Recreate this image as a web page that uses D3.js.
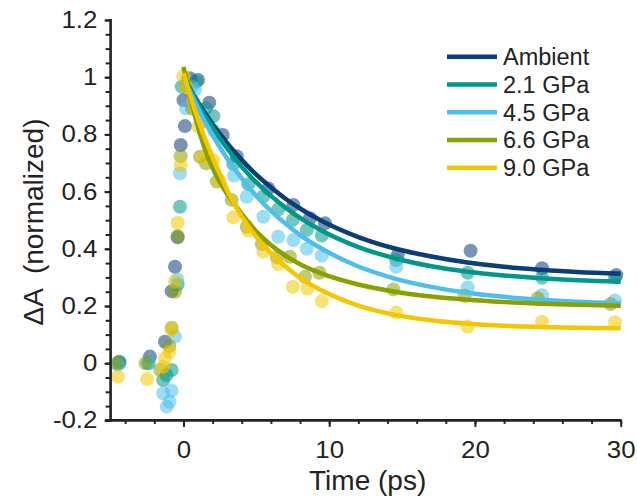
<!DOCTYPE html>
<html><head><meta charset="utf-8">
<script src="https://cdn.jsdelivr.net/npm/d3@7"></script>
<style>
body{margin:0;background:#fff}
svg{display:block}
text{font-family:"Liberation Sans",Arial,Helvetica,sans-serif;fill:#222}
</style>
</head><body>
<svg id="chart" width="637" height="497"></svg>
<script>
// ---------- data ----------
const seriesNames = ["Ambient", "2.1 GPa", "4.5 GPa", "6.6 GPa", "9.0 GPa"];
const seriesColors = ["#0b3d79", "#00988a", "#4cbfec", "#8a9f00", "#f3c600"];

const ambientT = [-4.4, -2.3, -1.27, -0.81, -0.58, -0.4, -0.19, 0.0, 0.1, 0.45, 1.0, 1.77, 2.69, 3.65, 5.82, 7.54, 8.68, 9.71, 14.7, 19.7, 24.6, 29.7];
const ambientY = [0.005, 0.023, 0.075, 0.252, 0.337, 0.44, 0.763, 0.92, 0.829, 0.996, 0.99, 0.911, 0.798, 0.724, 0.611, 0.553, 0.507, 0.489, 0.378, 0.393, 0.332, 0.308];

const gpa21T = [-4.4, -2.4, -1.39, -1.15, -0.81, -0.4, -0.24, -0.12, 0.86, 1.54, 2.05, 3.42, 4.45, 5.48, 6.5, 7.5, 8.46, 9.49, 14.6, 19.5, 24.6, 29.6];
const gpa21Y = [0.0, 0.0, -0.059, -0.041, -0.024, 0.275, 0.547, 0.967, 0.984, 0.891, 0.864, 0.696, 0.626, 0.584, 0.538, 0.501, 0.466, 0.446, 0.361, 0.316, 0.299, 0.3];

const gpa45T = [-4.5, -2.4, -1.39, -1.15, -0.95, -0.81, -0.58, -0.43, -0.24, 0.17, 0.56, 0.79, 1.54, 2.11, 3.47, 4.34, 5.48, 6.5, 7.54, 8.46, 9.49, 14.6, 19.5, 24.6, 29.6];
const gpa45Y = [-0.005, 0.0, -0.105, -0.152, -0.135, -0.096, 0.093, 0.293, 0.664, 0.891, 0.967, 0.955, 0.845, 0.812, 0.656, 0.582, 0.512, 0.442, 0.431, 0.4, 0.376, 0.337, 0.265, 0.238, 0.219];

const gpa66T = [-4.6, -2.6, -1.6, -0.97, -0.81, -0.58, -0.4, -0.19, 0.2, 0.6, 1.13, 1.54, 2.28, 3.3, 4.34, 5.37, 6.4, 7.3, 8.34, 9.32, 14.4, 19.3, 24.3, 29.3];
const gpa66Y = [0.0, 0.0, -0.024, 0.06, 0.124, 0.25, 0.445, 0.724, 0.97, 0.89, 0.722, 0.699, 0.635, 0.571, 0.477, 0.417, 0.37, 0.372, 0.302, 0.316, 0.258, 0.236, 0.227, 0.207];

const gpa90T = [-4.5, -2.5, -1.39, -1.27, -0.97, -0.81, -0.58, -0.4, -0.19, 0.0, 0.22, 0.67, 0.9, 1.02, 1.36, 2.05, 2.46, 3.42, 4.45, 5.48, 6.5, 7.5, 8.5, 9.49, 14.6, 19.5, 24.6, 29.6];
const gpa90Y = [-0.047, -0.055, -0.012, 0.017, 0.04, 0.116, 0.285, 0.491, 0.693, 1.004, 0.965, 0.918, 0.885, 0.827, 0.72, 0.71, 0.641, 0.51, 0.463, 0.39, 0.347, 0.267, 0.262, 0.217, 0.177, 0.128, 0.145, 0.143];

// fitted curves
const fitT       = [0, 0.5, 1, 1.5, 2, 2.5, 3, 3.5, 4, 5, 6, 7, 8, 9.5, 12, 14.5, 17, 19.5, 22, 24.5, 27, 30];
const fitAmbient = [1.000, 0.955, 0.913, 0.873, 0.836, 0.802, 0.769, 0.739, 0.711, 0.659, 0.615, 0.575, 0.541, 0.497, 0.441, 0.401, 0.373, 0.352, 0.337, 0.327, 0.319, 0.313];
const fit21      = [1.005, 0.955, 0.908, 0.864, 0.824, 0.786, 0.751, 0.718, 0.687, 0.632, 0.585, 0.544, 0.508, 0.463, 0.406, 0.367, 0.339, 0.320, 0.307, 0.297, 0.290, 0.285];
const fit45      = [1.000, 0.944, 0.891, 0.842, 0.797, 0.755, 0.716, 0.680, 0.646, 0.585, 0.533, 0.488, 0.448, 0.400, 0.338, 0.296, 0.267, 0.246, 0.232, 0.222, 0.215, 0.210];
const fit66      = [1.036, 0.920, 0.825, 0.745, 0.682, 0.632, 0.592, 0.556, 0.522, 0.460, 0.413, 0.376, 0.346, 0.313, 0.275, 0.250, 0.233, 0.222, 0.214, 0.208, 0.204, 0.201];
const fit90      = [1.014, 0.929, 0.852, 0.782, 0.719, 0.662, 0.605, 0.556, 0.513, 0.442, 0.385, 0.338, 0.298, 0.254, 0.201, 0.169, 0.150, 0.138, 0.131, 0.127, 0.124, 0.122];

const xTickValues = [0, 10, 20, 30];
const xTickLabels = ["0", "10", "20", "30"];
const yTickValues = [-0.2, 0, 0.2, 0.4, 0.6, 0.8, 1, 1.2];
const yTickLabels = ["-0.2", "0", "0.2", "0.4", "0.6", "0.8", "1", "1.2"];
const xLabel = "Time (ps)";
const yLabel = "\u0394A  (normalized)";

// ---------- build ----------
const pointsT = [ambientT, gpa21T, gpa45T, gpa66T, gpa90T];
const pointsY = [ambientY, gpa21Y, gpa45Y, gpa66Y, gpa90Y];
const fits = [fitAmbient, fit21, fit45, fit66, fit90];

const svg = d3.select("#chart");
const x = d3.scaleLinear().domain([-5, 30]).range([110.6, 620.7]);
const y = d3.scaleLinear().domain([-0.2, 1.2]).range([420.4, 20]);

// points
seriesNames.forEach((name, i) => {
  const pts = pointsT[i].map((t, j) => ({t, v: pointsY[i][j]}));
  svg.append("g").selectAll("circle").data(pts).join("circle")
    .attr("cx", d => x(d.t)).attr("cy", d => y(d.v)).attr("r", 7)
    .attr("fill", seriesColors[i]).attr("fill-opacity", 0.55);
});

// fit lines
const line = d3.line().x(d => x(d.t)).y(d => y(d.v)).curve(d3.curveMonotoneX);
seriesNames.forEach((name, i) => {
  const pts = fitT.map((t, j) => ({t, v: fits[i][j]}));
  svg.append("path").datum(pts).attr("d", line)
    .attr("fill", "none").attr("stroke", seriesColors[i]).attr("stroke-width", 4.5);
});

// axes
const axisColor = "#222";
const gx = svg.append("g").attr("transform", `translate(0,${y(-0.2)})`);
gx.call(d3.axisBottom(x).tickValues(d3.range(-4, 31, 2)).tickSize(3.5).tickFormat(""));
gx.select(".domain").remove();
gx.selectAll(".tick line").attr("stroke", axisColor).attr("stroke-width", 2);
const gx2 = svg.append("g").attr("transform", `translate(0,${y(-0.2)})`);
gx2.call(d3.axisBottom(x).tickValues(xTickValues).tickSize(6.5).tickPadding(14)
  .tickFormat((d, i) => xTickLabels[i]));
gx2.select(".domain").remove();
gx2.selectAll(".tick line").attr("stroke", axisColor).attr("stroke-width", 2);
gx2.selectAll(".tick text").attr("font-size", 23.5).attr("fill", axisColor)
  .attr("font-family", "Liberation Sans, Arial, sans-serif")
  .attr("transform", "scale(1.1,1)");

const gy = svg.append("g").attr("transform", `translate(${x(-5)},0)`);
gy.call(d3.axisLeft(y).tickValues(d3.range(-0.2, 1.2001, 0.05)).tickSize(5).tickFormat(""));
gy.select(".domain").remove();
gy.selectAll(".tick line").attr("stroke", axisColor).attr("stroke-width", 2);
const gy2 = svg.append("g").attr("transform", `translate(${x(-5)},0)`);
gy2.call(d3.axisLeft(y).tickValues(yTickValues).tickSize(6).tickPadding(6)
  .tickFormat((d, i) => yTickLabels[i]));
gy2.select(".domain").remove();
gy2.selectAll(".tick line").attr("stroke", axisColor).attr("stroke-width", 2);
gy2.selectAll(".tick text").attr("font-size", 23.5).attr("fill", axisColor)
  .attr("font-family", "Liberation Sans, Arial, sans-serif")
  .attr("transform", "scale(1.1,1)");

// axis lines
svg.append("line").attr("x1", x(-5) - 5.5).attr("x2", x(30) + 1).attr("y1", y(-0.2)).attr("y2", y(-0.2))
  .attr("stroke", axisColor).attr("stroke-width", 2.6);
svg.append("line").attr("x1", x(-5)).attr("x2", x(-5)).attr("y1", y(1.2) - 1).attr("y2", y(-0.2) + 1)
  .attr("stroke", axisColor).attr("stroke-width", 2.6);

// axis titles
svg.append("text").attr("x", (x(-5) + x(30)) / 2 + 2).attr("y", 490)
  .attr("text-anchor", "middle").attr("font-size", 28).text(xLabel);
svg.append("text").attr("transform", `translate(43,222) rotate(-90)`)
  .attr("text-anchor", "middle").attr("font-size", 28).style("white-space", "pre").text(yLabel);

// legend
const leg = svg.append("g");
seriesNames.forEach((name, i) => {
  const yy = 56.7 + i * 27.75;
  leg.append("line").attr("x1", 447).attr("x2", 497).attr("y1", yy).attr("y2", yy)
    .attr("stroke", seriesColors[i]).attr("stroke-width", 4.5);
  leg.append("text").attr("x", 503).attr("y", yy).attr("dy", "0.36em")
    .attr("font-size", 23.5).text(name);
});
</script>
</body></html>
